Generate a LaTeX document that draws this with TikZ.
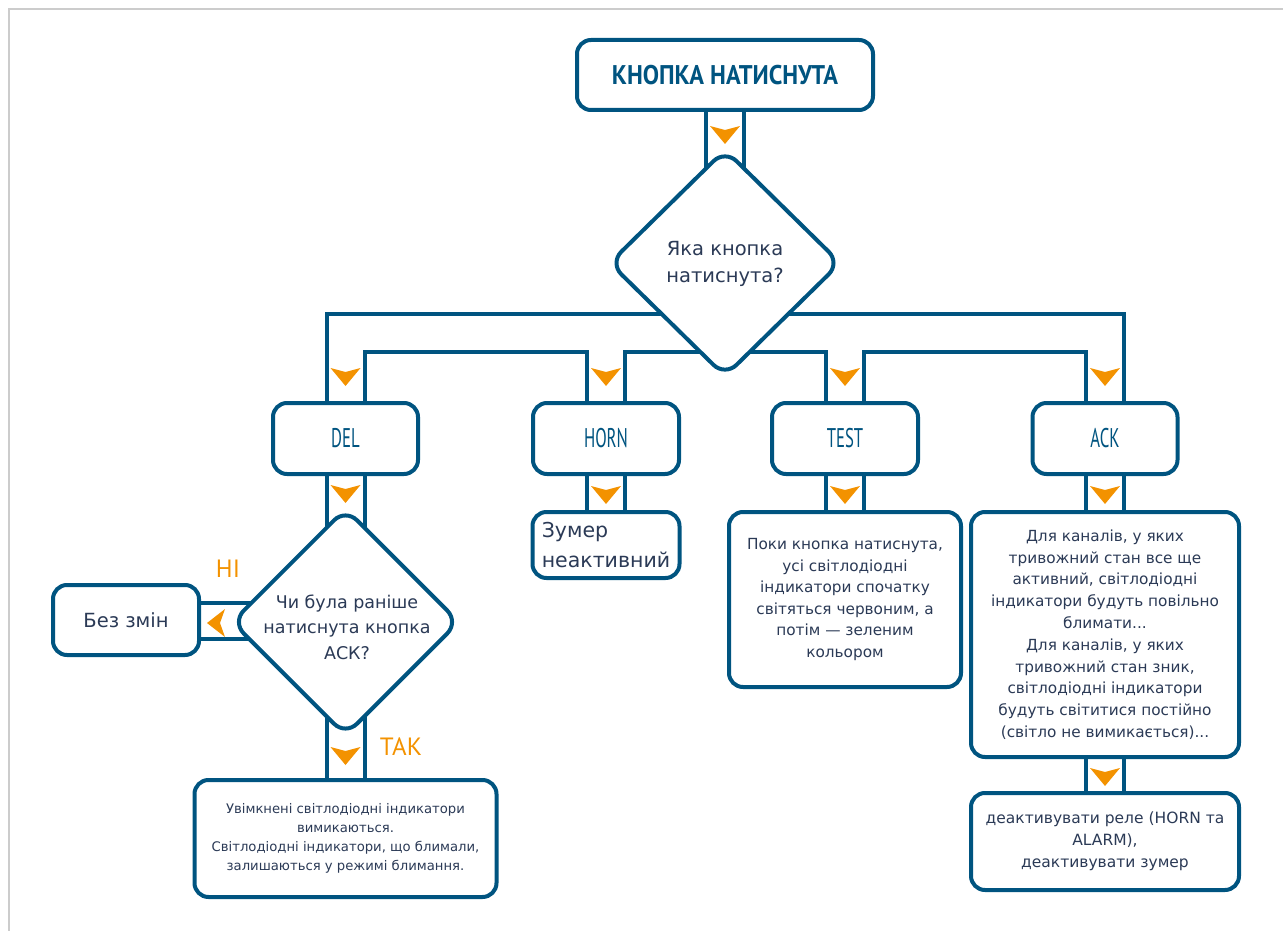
\documentclass[tikz,border=0pt]{standalone}
\usepackage{fontspec}
\setmainfont{DejaVu Sans}
\newfontfamily\ptsans{PT Sans}
\usetikzlibrary{shapes.geometric,calc,backgrounds}
\definecolor{bl}{RGB}{0,84,128}
\definecolor{org}{RGB}{243,146,0}
\definecolor{txt}{RGB}{43,58,86}
\definecolor{frm}{RGB}{204,204,204}
\newcommand\dnarrowhead[1]{\fill[org] ($(#1)+(-15,0)$) -- ++(15,4) -- ++(15,-4) -- ++(-15,18) -- cycle;}
\begin{document}
\begin{tikzpicture}[x=1pt,y=-1pt,
  box/.style={draw=bl,line width=4pt,rounded corners=14pt,fill=white,inner sep=0pt,align=center,text=txt},
  dia/.style={draw=bl,line width=4pt,diamond,rounded corners=16pt,fill=white,inner sep=0pt},
  chan/.style={draw=bl,line width=4pt},
  lab/.style={text=bl,font=\ptsans\fontsize{27}{27}\selectfont},
  yn/.style={text=org,font=\ptsans\fontsize{25}{25}\selectfont},
]
\useasboundingbox (0,0) rectangle (1283,931);

% nodes
\node[box,minimum width=296pt,minimum height=70pt] (title) at (725,75)
  {\color{bl}\scalebox{0.9}[1]{\ptsans\bfseries\fontsize{27}{27}\selectfont КНОПКА НАТИСНУТА}};
\node[dia,minimum width=232pt,minimum height=228pt] (d1) at (725,263) {};
\node[text=txt,align=center,font=\fontsize{19.5}{27}\selectfont] (d1t) at (725,264) {Яка кнопка\\натиснута?};

\node[box,lab,minimum width=145pt,minimum height=71pt] (del) at (345.5,438.5) {\scalebox{0.62}[1]{DEL}};
\node[box,lab,minimum width=146pt,minimum height=71pt] (horn) at (606,438.5) {\scalebox{0.62}[1]{HORN}};
\node[box,lab,minimum width=146pt,minimum height=71pt] (test) at (845,438.5) {\scalebox{0.62}[1]{TEST}};
\node[box,lab,minimum width=145pt,minimum height=71pt] (ack) at (1105,438.5) {\scalebox{0.62}[1]{ACK}};

\node[dia,minimum width=228pt,minimum height=228pt] (d2) at (345.5,622) {};
\node[text=txt,align=center,font=\fontsize{17.5}{25.5}\selectfont] (d2t) at (347,627) {Чи була раніше\\натиснута кнопка\\АСК?};
\node[box,minimum width=146pt,minimum height=70pt,font=\fontsize{19.5}{23}\selectfont] (bez) at (126,620) {Без змін};
\node[yn] (ni) at (228,569) {НІ};
\node[yn] (tak) at (401,747) {ТАК};
\node[box,minimum width=302pt,minimum height=117pt,font=\fontsize{13.2}{19}\selectfont] (res) at (345.5,838.5)
  {Увімкнені світлодіодні індикатори\\вимикаються.\\Світлодіодні індикатори, що блимали,\\залишаються у режимі блимання.};

\node[box,minimum width=147pt,minimum height=66pt,align=left,font=\fontsize{20.5}{30}\selectfont] (zum) at (606,545) {Зумер\\неактивний};

\node[box,minimum width=232pt,minimum height=175pt,font=\fontsize{15.3}{21.6}\selectfont] (testtx) at (845,599.5)
  {Поки кнопка натиснута,\\усі світлодіодні\\індикатори спочатку\\світяться червоним, а\\потім — зеленим\\кольором};

\node[box,minimum width=268pt,minimum height=245pt,font=\fontsize{15.3}{21.8}\selectfont] (acktx) at (1105,634.5)
  {Для каналів, у яких\\тривожний стан все ще\\активний, світлодіодні\\індикатори будуть повільно\\блимати...\\Для каналів, у яких\\тривожний стан зник,\\світлодіодні індикатори\\будуть світитися постійно\\(світло не вимикається)...};

\node[box,minimum width=268pt,minimum height=97pt,font=\fontsize{15.5}{22}\selectfont] (fin) at (1105,841.5)
  {деактивувати реле (HORN та\\ALARM),\\деактивувати зумер};

% connectors
\begin{scope}[on background layer]
\draw[frm,line width=2pt] (9,931) -- (9,9) -- (1283,9);
\coordinate (yo) at ($(d1.center)+(0,51)$);
\coordinate (yi) at ($(d1.center)+(0,89)$);
\foreach \s in {-19,19} {
  \draw[chan] ([xshift=\s pt]title.south) -- ([xshift=\s pt]d1.center);
  \draw[chan] ([xshift=\s pt]del.south) -- ([xshift=\s pt]d2.center);
  \draw[chan] ([xshift=\s pt]d2.center) -- ([xshift=\s pt]res.north);
  \draw[chan] ([xshift=\s pt]horn.south) -- ([xshift=\s pt]zum.north);
  \draw[chan] ([xshift=\s pt]test.south) -- ([xshift=\s pt]testtx.north);
  \draw[chan] ([xshift=\s pt]ack.south) -- ([xshift=\s pt]acktx.north);
  \draw[chan] ([xshift=\s pt]acktx.south) -- ([xshift=\s pt]fin.north);
}
\draw[chan] (yo) -| ([xshift=-19pt]del.north);
\draw[chan] (yo) -| ([xshift=19pt]ack.north);
\draw[chan] (yi) -| ([xshift=19pt]horn.north);
\draw[chan] (yi) -| ([xshift=-19pt]test.north);
\coordinate (delR) at ([xshift=19pt]del.north);
\coordinate (hornL) at ([xshift=-19pt]horn.north);
\coordinate (testR) at ([xshift=19pt]test.north);
\coordinate (ackL) at ([xshift=-19pt]ack.north);
\draw[chan] (hornL) |- (delR |- yi) -- (delR);
\draw[chan] (testR) |- (ackL |- yi) -- (ackL);
\coordinate (b1) at ($(bez.east)+(0,-17)$);
\coordinate (b2) at ($(bez.east)+(0,19)$);
\draw[chan] (b1) -- (b1 -| d2.center);
\draw[chan] (b2) -- (b2 -| d2.center);
\end{scope}

% arrowheads
\dnarrowhead{725,126}
\dnarrowhead{345.5,368}
\dnarrowhead{606,368}
\dnarrowhead{845,368}
\dnarrowhead{1105,368}
\dnarrowhead{345.5,485}
\dnarrowhead{606,486}
\dnarrowhead{845,486}
\dnarrowhead{1105,486}
\dnarrowhead{345.5,747}
\dnarrowhead{1105,768}
\fill[org] (225,609) -- (220,623) -- (225,637) -- (207,623) -- cycle;
\end{tikzpicture}
\end{document}
